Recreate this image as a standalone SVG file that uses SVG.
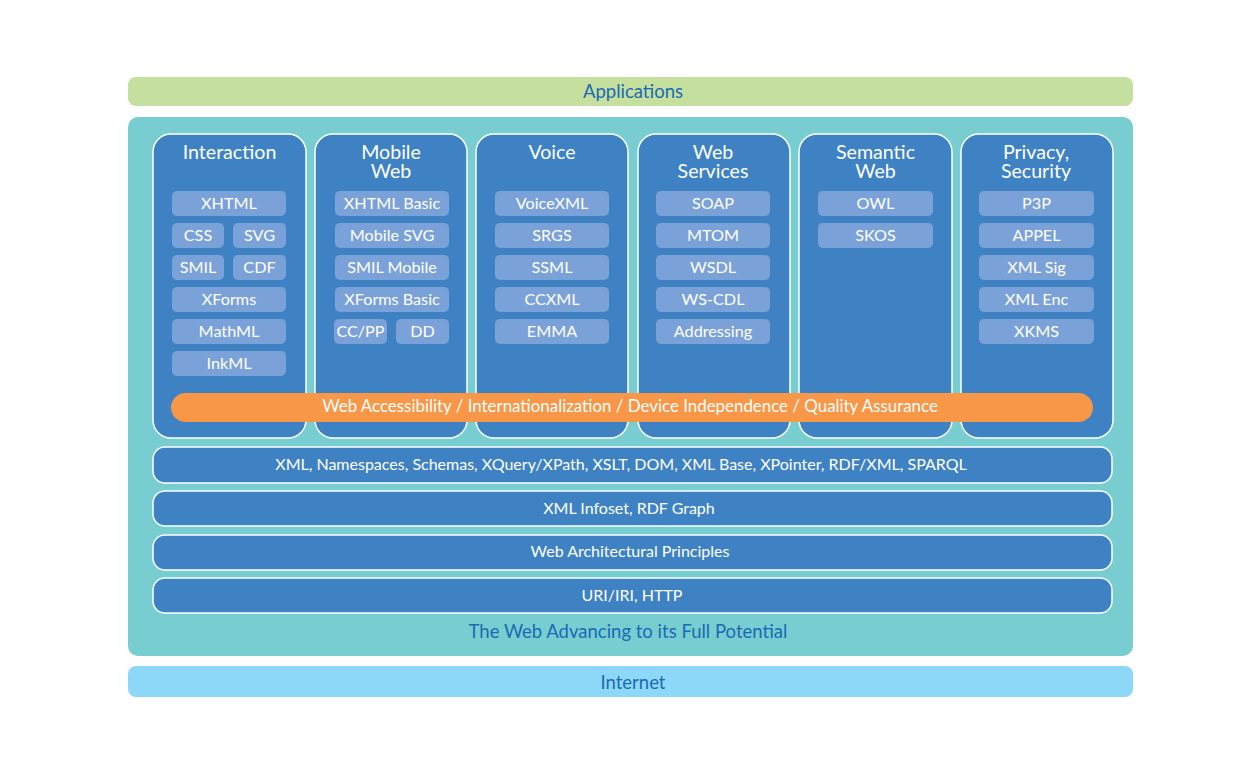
<svg xmlns="http://www.w3.org/2000/svg" width="1259" height="775" viewBox="0 0 1259 775">
<style>
text{font-family:Lato,"Open Sans","Liberation Sans",sans-serif;text-anchor:middle}
.col{fill:#3E82C4;stroke:#fff;stroke-width:1.5}
.box{fill:#7BA2D8}
.bt{fill:#fff;font-size:16.2px}
.tt{fill:#fff;font-size:19.6px}
.bar{fill:#3E82C4;stroke:#fff;stroke-width:1.5}
.lt{fill:#fff;font-size:16px}
.ot{fill:#1A6AB4;font-size:18.5px}
</style>
<rect width="1259" height="775" fill="#fff"/>
<g id="applications"><rect x="128" y="77" width="1005" height="29" rx="8" fill="#C5DF9E"/><text class="ot" x="633" y="98">Applications</text></g>
<g id="web-container"><rect x="128" y="117" width="1005" height="539" rx="10" fill="#78CDD0"/><text class="ot" x="628" y="638">The Web Advancing to its Full Potential</text></g>
<g id="internet"><rect x="128" y="666" width="1005" height="31" rx="8" fill="#8DD8F8"/><text class="ot" x="633" y="689">Internet</text></g>

<g id="interaction">
<rect class="col" x="153" y="134" width="153" height="304" rx="18"/>
<text class="tt" x="229.5" y="159">Interaction</text>
<rect class="box" x="172" y="191" width="114" height="25" rx="5"/><text class="bt" x="229" y="209">XHTML</text>
<rect class="box" x="172" y="223" width="52" height="25" rx="5"/><text class="bt" x="198" y="241">CSS</text>
<rect class="box" x="233" y="223" width="53" height="25" rx="5"/><text class="bt" x="259.5" y="241">SVG</text>
<rect class="box" x="172" y="255" width="52" height="25" rx="5"/><text class="bt" x="198" y="273">SMIL</text>
<rect class="box" x="233" y="255" width="53" height="25" rx="5"/><text class="bt" x="259.5" y="273">CDF</text>
<rect class="box" x="172" y="287" width="114" height="25" rx="5"/><text class="bt" x="229" y="305">XForms</text>
<rect class="box" x="172" y="319" width="114" height="25" rx="5"/><text class="bt" x="229" y="337">MathML</text>
<rect class="box" x="172" y="351" width="114" height="25" rx="5"/><text class="bt" x="229" y="369">InkML</text>
</g>
<g id="mobile-web">
<rect class="col" x="315" y="134" width="152" height="304" rx="18"/>
<text class="tt" x="391" y="159">Mobile</text><text class="tt" x="391" y="178">Web</text>
<rect class="box" x="335" y="191" width="114" height="25" rx="5"/><text class="bt" x="392" y="209">XHTML Basic</text>
<rect class="box" x="335" y="223" width="114" height="25" rx="5"/><text class="bt" x="392" y="241">Mobile SVG</text>
<rect class="box" x="335" y="255" width="114" height="25" rx="5"/><text class="bt" x="392" y="273">SMIL Mobile</text>
<rect class="box" x="335" y="287" width="114" height="25" rx="5"/><text class="bt" x="392" y="305">XForms Basic</text>
<rect class="box" x="334" y="319" width="53" height="25" rx="5"/><text class="bt" x="360.5" y="337">CC/PP</text>
<rect class="box" x="396" y="319" width="53" height="25" rx="5"/><text class="bt" x="422.5" y="337">DD</text>
</g>
<g id="voice">
<rect class="col" x="476" y="134" width="152" height="304" rx="18"/>
<text class="tt" x="552" y="159">Voice</text>
<rect class="box" x="495" y="191" width="114" height="25" rx="5"/><text class="bt" x="552" y="209">VoiceXML</text>
<rect class="box" x="495" y="223" width="114" height="25" rx="5"/><text class="bt" x="552" y="241">SRGS</text>
<rect class="box" x="495" y="255" width="114" height="25" rx="5"/><text class="bt" x="552" y="273">SSML</text>
<rect class="box" x="495" y="287" width="114" height="25" rx="5"/><text class="bt" x="552" y="305">CCXML</text>
<rect class="box" x="495" y="319" width="114" height="25" rx="5"/><text class="bt" x="552" y="337">EMMA</text>
</g>
<g id="web-services">
<rect class="col" x="638" y="134" width="152" height="304" rx="18"/>
<text class="tt" x="713" y="159">Web</text><text class="tt" x="713" y="178">Services</text>
<rect class="box" x="656" y="191" width="114" height="25" rx="5"/><text class="bt" x="713" y="209">SOAP</text>
<rect class="box" x="656" y="223" width="114" height="25" rx="5"/><text class="bt" x="713" y="241">MTOM</text>
<rect class="box" x="656" y="255" width="114" height="25" rx="5"/><text class="bt" x="713" y="273">WSDL</text>
<rect class="box" x="656" y="287" width="114" height="25" rx="5"/><text class="bt" x="713" y="305">WS-CDL</text>
<rect class="box" x="656" y="319" width="114" height="25" rx="5"/><text class="bt" x="713" y="337">Addressing</text>
</g>
<g id="semantic-web">
<rect class="col" x="799" y="134" width="153" height="304" rx="18"/>
<text class="tt" x="875.5" y="159">Semantic</text><text class="tt" x="875.5" y="178">Web</text>
<rect class="box" x="818" y="191" width="115" height="25" rx="5"/><text class="bt" x="875.5" y="209">OWL</text>
<rect class="box" x="818" y="223" width="115" height="25" rx="5"/><text class="bt" x="875.5" y="241">SKOS</text>
</g>
<g id="privacy-security">
<rect class="col" x="961" y="134" width="152" height="304" rx="18"/>
<text class="tt" x="1036" y="159">Privacy,</text><text class="tt" x="1036" y="178">Security</text>
<rect class="box" x="979" y="191" width="115" height="25" rx="5"/><text class="bt" x="1036.5" y="209">P3P</text>
<rect class="box" x="979" y="223" width="115" height="25" rx="5"/><text class="bt" x="1036.5" y="241">APPEL</text>
<rect class="box" x="979" y="255" width="115" height="25" rx="5"/><text class="bt" x="1036.5" y="273">XML Sig</text>
<rect class="box" x="979" y="287" width="115" height="25" rx="5"/><text class="bt" x="1036.5" y="305">XML Enc</text>
<rect class="box" x="979" y="319" width="115" height="25" rx="5"/><text class="bt" x="1036.5" y="337">XKMS</text>
</g>
<g id="accessibility">
<rect x="171" y="393" width="922" height="29" rx="14.5" fill="#F89747"/>
<text class="lt" x="630" y="412" style="font-size:16.9px">Web Accessibility / Internationalization / Device Independence / Quality Assurance</text>
</g>
<g id="xml-layer"><rect class="bar" x="153" y="447" width="959" height="36" rx="12"/><text class="lt" x="621" y="470" style="font-size:16px">XML, Namespaces, Schemas, XQuery/XPath, XSLT, DOM, XML Base, XPointer, RDF/XML, SPARQL</text></g>
<g id="infoset-layer"><rect class="bar" x="153" y="491" width="959" height="35" rx="12"/><text class="lt" x="629" y="514">XML Infoset, RDF Graph</text></g>
<g id="architecture-layer"><rect class="bar" x="153" y="535" width="959" height="35" rx="12"/><text class="lt" x="630" y="557">Web Architectural Principles</text></g>
<g id="uri-layer"><rect class="bar" x="153" y="578" width="959" height="35" rx="12"/><text class="lt" x="632" y="601">URI/IRI, HTTP</text></g>
<g id="connectors"/>
</svg>
